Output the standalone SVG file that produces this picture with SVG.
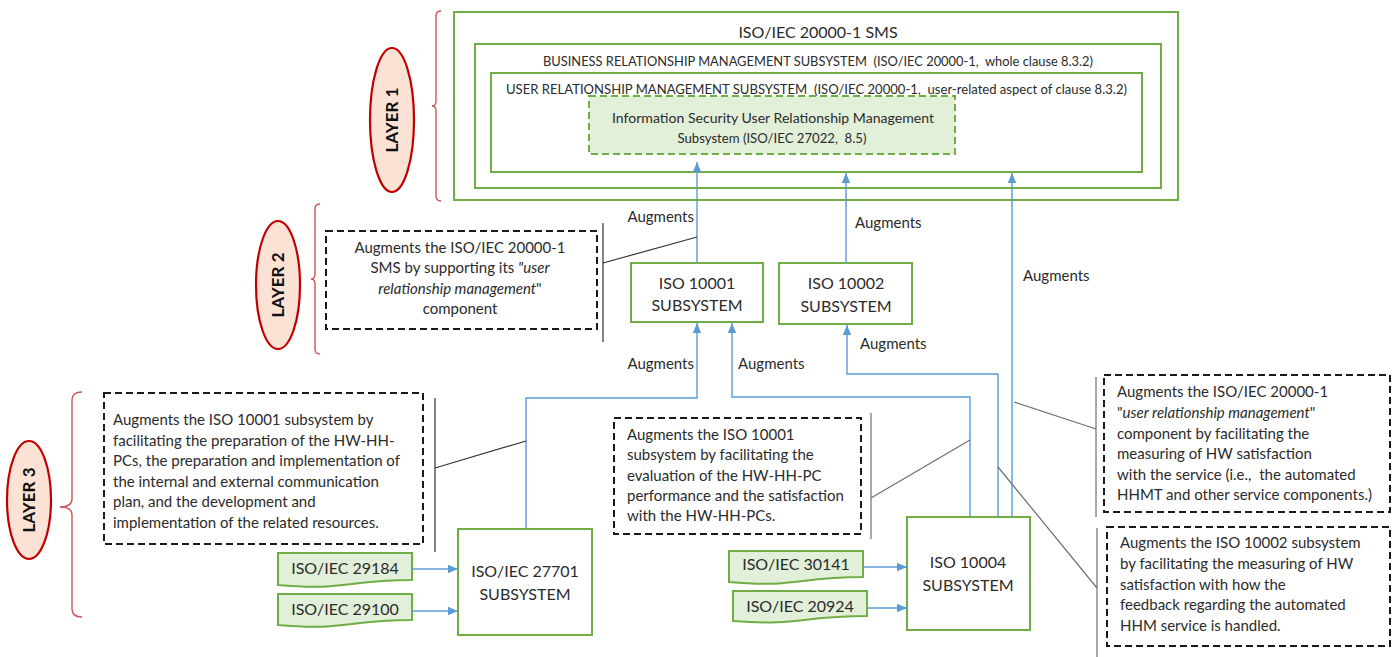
<svg xmlns="http://www.w3.org/2000/svg" width="1400" height="657" viewBox="0 0 1400 657">
  <style>
    text { font-family: Lato, "Liberation Sans", sans-serif; fill: #2b2b2b; white-space: pre; }
    .box { fill: #ffffff; stroke: #70ad47; stroke-width: 2; }
    .std { fill: #e2efd9; stroke: #70ad47; stroke-width: 2; }
    .dashg { fill: #e2efd9; stroke: #70ad47; stroke-width: 2; stroke-dasharray: 7 4; }
    .note { fill: #ffffff; stroke: #1a1a1a; stroke-width: 2; stroke-dasharray: 7 4; }
    .layer { fill: #fbe2d5; stroke: #c00000; stroke-width: 2.2; }
    .brace { fill: none; stroke: #c9585a; stroke-width: 1.4; }
    .conn { fill: none; stroke: #5b9bd5; stroke-width: 1.4; }
    .lead { fill: none; stroke: #333333; stroke-width: 1.2; }
    .leadg { fill: none; stroke: #6e6e6e; stroke-width: 1.2; }
    .lt { font-size: 17px; font-weight: bold; fill: #111111; }
    .t16 { font-size: 16px; }
    .t15 { font-size: 15px; }
    .t13 { font-size: 13px; }
    .c { text-anchor: middle; }
    .i { font-style: italic; }
  </style>
  <defs>
    <marker id="arr" markerUnits="userSpaceOnUse" markerWidth="10" markerHeight="10" viewBox="0 0 10 10" refX="10" refY="5" orient="auto">
      <path d="M0,0.8 L10,5 L0,9.2 Z" fill="#5b9bd5"/>
    </marker>
  </defs>

  <!-- layer badges and braces -->
  <g id="layer1">
    <ellipse class="layer" cx="392" cy="120" rx="22" ry="72"/>
    <text class="lt c" transform="translate(398,120) rotate(-90)">LAYER 1</text>
    <path class="brace" d="M441,11 Q436,11 436,16 V101 Q436,106 432,106 Q436,106 436,111 V196 Q436,201 441,201"/>
  </g>
  <g id="layer2">
    <ellipse class="layer" cx="278" cy="285" rx="22" ry="64"/>
    <text class="lt c" transform="translate(284,285) rotate(-90)">LAYER 2</text>
    <path class="brace" d="M320,204 Q315,204 315,209 V274 Q315,279 311,279 Q315,279 315,284 V349 Q315,354 320,354"/>
  </g>
  <g id="layer3">
    <ellipse class="layer" cx="29" cy="500" rx="22" ry="59"/>
    <text class="lt c" transform="translate(35,500) rotate(-90)">LAYER 3</text>
    <path class="brace" d="M82,392 Q72,392 72,400 V499 Q72,507 60,507 Q72,507 72,515 V609 Q72,617 82,617"/>
  </g>

  <!-- layer 1: nested SMS subsystems -->
  <g id="sms">
    <rect class="box" x="454" y="12" width="724" height="188"/>
    <text class="t16 c" x="818" y="38">ISO/IEC 20000-1 SMS</text>
  </g>
  <g id="brm">
    <rect class="box" x="475" y="44" width="686" height="144"/>
    <text class="t13" x="543" y="66" textLength="550" lengthAdjust="spacingAndGlyphs">BUSINESS RELATIONSHIP MANAGEMENT SUBSYSTEM  (ISO/IEC 20000-1,  whole clause 8.3.2)</text>
  </g>
  <g id="urm">
    <rect class="box" x="491" y="73" width="651" height="99"/>
    <text class="t13" x="506" y="94" textLength="621" lengthAdjust="spacingAndGlyphs">USER RELATIONSHIP MANAGEMENT SUBSYSTEM  (ISO/IEC 20000-1,  user-related aspect of clause 8.3.2)</text>
  </g>
  <g id="isurm">
    <rect class="dashg" x="589" y="96" width="366" height="58"/>
    <text class="t13 c" x="773" y="123" textLength="322" lengthAdjust="spacingAndGlyphs">Information Security User Relationship Management</text>
    <text class="t13 c" x="772" y="143" textLength="189" lengthAdjust="spacingAndGlyphs">Subsystem (ISO/IEC 27022,  8.5)</text>
  </g>

  <!-- layer 2 subsystems -->
  <g id="iso10001">
    <rect class="box" x="631" y="263" width="132" height="59"/>
    <text class="t16 c" x="697" y="289">ISO 10001</text>
    <text class="t16 c" x="697" y="311">SUBSYSTEM</text>
  </g>
  <g id="iso10002">
    <rect class="box" x="779" y="263" width="133" height="61"/>
    <text class="t16 c" x="846" y="289">ISO 10002</text>
    <text class="t16 c" x="846" y="312">SUBSYSTEM</text>
  </g>

  <!-- layer 3 subsystems -->
  <g id="iso27701">
    <rect class="box" x="458" y="529" width="134" height="106"/>
    <text class="t16 c" x="525" y="577">ISO/IEC 27701</text>
    <text class="t16 c" x="525" y="600">SUBSYSTEM</text>
  </g>
  <g id="iso10004">
    <rect class="box" x="907" y="517" width="123" height="113"/>
    <text class="t16 c" x="968" y="568">ISO 10004</text>
    <text class="t16 c" x="968" y="591">SUBSYSTEM</text>
  </g>

  <!-- supporting standards -->
  <g id="std29184">
    <path class="std" d="M278,553 H412 V580 C345,580 345,591 278,585 Z"/>
    <text class="t16 c" x="345" y="574">ISO/IEC 29184</text>
  </g>
  <g id="std29100">
    <path class="std" d="M278,594 H412 V620 C345,620 345,631 278,625 Z"/>
    <text class="t16 c" x="345" y="615">ISO/IEC 29100</text>
  </g>
  <g id="std30141">
    <path class="std" d="M729,551 H863 V577 C796,577 796,588 729,582 Z"/>
    <text class="t16 c" x="796" y="570">ISO/IEC 30141</text>
  </g>
  <g id="std20924">
    <path class="std" d="M733,591 H867 V616 C800,616 800,626 733,621 Z"/>
    <text class="t16 c" x="800" y="612">ISO/IEC 20924</text>
  </g>

  <!-- explanatory notes -->
  <g id="note-layer2">
    <rect class="note" x="326" y="231" width="271" height="98"/>
    <text class="t15 c" x="460" y="253">Augments the ISO/IEC 20000-1</text>
    <text class="t15 c" x="460" y="273">SMS by supporting its <tspan class="i">"user</tspan></text>
    <text class="t15 c" x="460" y="294"><tspan class="i">relationship management</tspan>"</text>
    <text class="t15 c" x="460" y="314">component</text>
  </g>
  <g id="note-27701">
    <rect class="note" x="104" y="393" width="319" height="151"/>
    <text class="t15" x="113" y="425">Augments the ISO 10001 subsystem by</text>
    <text class="t15" x="113" y="445.5">facilitating the preparation of the HW-HH-</text>
    <text class="t15" x="113" y="466">PCs, the preparation and implementation of</text>
    <text class="t15" x="113" y="486.5">the internal and external communication</text>
    <text class="t15" x="113" y="507">plan, and the development and</text>
    <text class="t15" x="113" y="527.5">implementation of the related resources.</text>
  </g>
  <g id="note-10004-10001">
    <rect class="note" x="614" y="418" width="247" height="116"/>
    <text class="t15" x="627" y="440">Augments the ISO 10001</text>
    <text class="t15" x="627" y="460">subsystem by facilitating the</text>
    <text class="t15" x="627" y="480.5">evaluation of the HW-HH-PC</text>
    <text class="t15" x="627" y="501">performance and the satisfaction</text>
    <text class="t15" x="627" y="521">with the HW-HH-PCs.</text>
  </g>
  <g id="note-10004-urm">
    <rect class="note" x="1104" y="375" width="286" height="137"/>
    <text class="t15" x="1117" y="397">Augments the ISO/IEC 20000-1</text>
    <text class="t15" x="1117" y="418">"<tspan class="i">user relationship management</tspan>"</text>
    <text class="t15" x="1117" y="438.5">component by facilitating the</text>
    <text class="t15" x="1117" y="459">measuring of HW satisfaction</text>
    <text class="t15" x="1117" y="479.5">with the service (i.e.,  the automated</text>
    <text class="t15" x="1117" y="500">HHMT and other service components.)</text>
  </g>
  <g id="note-10004-10002">
    <rect class="note" x="1107" y="527" width="283" height="119"/>
    <text class="t15" x="1120" y="548">Augments the ISO 10002 subsystem</text>
    <text class="t15" x="1120" y="569">by facilitating the measuring of HW</text>
    <text class="t15" x="1120" y="590">satisfaction with how the</text>
    <text class="t15" x="1120" y="610">feedback regarding the automated</text>
    <text class="t15" x="1120" y="631">HHM service is handled.</text>
  </g>

  <!-- connectors -->
  <g id="connectors">
    <path class="conn" d="M697,263 V162" marker-end="url(#arr)"/>
    <path class="conn" d="M846,263 V173" marker-end="url(#arr)"/>
    <path class="conn" d="M1012,517 V173" marker-end="url(#arr)"/>
    <path class="conn" d="M526,529 V398 H697 V323" marker-end="url(#arr)"/>
    <path class="conn" d="M970,517 V397 H732 V323" marker-end="url(#arr)"/>
    <path class="conn" d="M998,517 V374 H847 V325" marker-end="url(#arr)"/>
    <path class="conn" d="M412,569 H458" marker-end="url(#arr)"/>
    <path class="conn" d="M412,611 H458" marker-end="url(#arr)"/>
    <path class="conn" d="M863,567 H907" marker-end="url(#arr)"/>
    <path class="conn" d="M867,608 H907" marker-end="url(#arr)"/>

    <text class="t15" x="694" y="222" text-anchor="end">Augments</text>
    <text class="t15" x="855" y="228">Augments</text>
    <text class="t15" x="1023" y="281">Augments</text>
    <text class="t15" x="694" y="369" text-anchor="end">Augments</text>
    <text class="t15" x="738" y="369">Augments</text>
    <text class="t15" x="860" y="349">Augments</text>

    <!-- note leaders -->
    <path class="lead" d="M603,223 V342 M603,263 L697,237"/>
    <path class="lead" d="M435,398 V552 M435,468 L526,441"/>
    <path class="leadg" d="M871,413 V539 M871,498 L970,440"/>
    <path class="leadg" d="M1096,377 V517 M1096,429 L1014,402"/>
    <path class="leadg" d="M1097,528 V657 M1097,588 L998,467"/>
  </g>
</svg>
